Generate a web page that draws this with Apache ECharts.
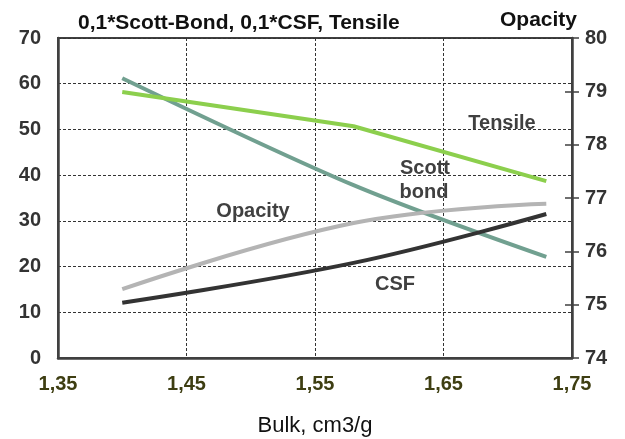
<!DOCTYPE html>
<html>
<head>
<meta charset="utf-8">
<script src="https://cdn.jsdelivr.net/npm/echarts@6/dist/echarts.min.js"></script>
<style>
html,body{margin:0;padding:0;background:#fff;}
#c{width:625px;height:439px;}
</style>
</head>
<body>
<div id="c"></div>
<script>
// Data
var bulk = [1.40, 1.58, 1.73];
var scottBond = [61.2, 37.8, 22.1];   // 0,1*Scott-Bond (left axis)
var tensile = [58.2, 50.7, 38.7];     // Tensile (left axis)
var csf = [12.1, 20.8, 31.5];         // 0,1*CSF (left axis)
var opacity = [75.29, 76.53, 76.89];  // Opacity (right axis)
var xTicks = {min: 1.35, max: 1.75, interval: 0.1};
var leftTicks = {min: 0, max: 70, interval: 10};
var rightTicks = {min: 74, max: 80, interval: 1};
var titleText = '0,1*Scott-Bond, 0,1*CSF, Tensile';
var rightName = 'Opacity';
var xName = 'Bulk, cm3/g';
var labels = [
  {text: 'Tensile', x: 502, y: 123},
  {text: 'Scott', x: 425, y: 168},
  {text: 'bond', x: 424, y: 192},
  {text: 'Opacity', x: 253, y: 211},
  {text: 'CSF', x: 395, y: 284}
];

function pairs(xs, ys){ return xs.map(function(x,i){ return [x, ys[i]]; }); }

var FONT = '"Liberation Sans", Arial, sans-serif';
var chart = echarts.init(document.getElementById('c'), null, {renderer: 'canvas'});
var gridLine = {show: true, lineStyle: {color: '#333', width: 1, type: [3, 2]}};

chart.setOption({
  animation: false,
  backgroundColor: '#fff',
  title: {
    text: titleText, left: 73, top: 8,
    textStyle: {fontFamily: FONT, fontSize: 21, fontWeight: 'bold', color: '#111'}
  },
  grid: {left: 58, right: 53, top: 38, bottom: 81, containLabel: false, outerBoundsMode: 'none',
         show: true, borderColor: '#404040', borderWidth: 2, backgroundColor: 'transparent'},
  xAxis: {
    type: 'value', min: xTicks.min, max: xTicks.max, interval: xTicks.interval,
    name: xName, nameLocation: 'middle', nameGap: 57,
    nameTextStyle: {fontFamily: FONT, fontSize: 22, color: '#111'},
    axisLine: {show: true, lineStyle: {color: '#404040', width: 2.5}},
    axisTick: {show: false},
    splitLine: gridLine,
    axisLabel: {
      margin: 16, fontFamily: FONT, fontSize: 20, fontWeight: 'bold', color: '#3e3e12',
      formatter: function(v){ return v.toFixed(2).replace('.', ','); }
    }
  },
  yAxis: [
    {
      type: 'value', position: 'left', min: leftTicks.min, max: leftTicks.max, interval: leftTicks.interval,
      axisLine: {show: true, lineStyle: {color: '#404040', width: 2.5}},
      axisTick: {show: false},
      splitLine: gridLine,
      axisLabel: {margin: 17, fontFamily: FONT, fontSize: 20, fontWeight: 'bold', color: '#333'}
    },
    {
      type: 'value', position: 'right', min: rightTicks.min, max: rightTicks.max, interval: rightTicks.interval,
      name: rightName, nameLocation: 'end', nameGap: 18,
      nameTextStyle: {fontFamily: FONT, fontSize: 21, fontWeight: 'bold', color: '#111', align: 'right', verticalAlign: 'middle', padding: [0, -5, 0, 0]},
      axisLine: {show: true, lineStyle: {color: '#404040', width: 2.5}},
      axisTick: {show: true, length: 7, lineStyle: {color: '#404040', width: 1.5}},
      splitLine: {show: false},
      axisLabel: {margin: 13, fontFamily: FONT, fontSize: 20, fontWeight: 'bold', color: '#333'}
    },
    {
      type: 'value', position: 'right', min: rightTicks.min, max: rightTicks.max, interval: rightTicks.interval,
      axisLine: {show: false},
      axisTick: {show: true, inside: true, length: 7, lineStyle: {color: '#404040', width: 1.5}},
      splitLine: {show: false},
      axisLabel: {show: false}
    }
  ],
  series: [
    {name: 'Scott bond', type: 'line', yAxisIndex: 0, data: pairs(bulk, scottBond), smooth: 0.3,
     showSymbol: false, lineStyle: {color: '#71A090', width: 4}, itemStyle: {color: '#71A090'}},
    {name: 'Tensile', type: 'line', yAxisIndex: 0, data: pairs(bulk, tensile), smooth: false,
     showSymbol: false, lineStyle: {color: '#8CCF4D', width: 4}, itemStyle: {color: '#8CCF4D'}},
    {name: 'Opacity', type: 'line', yAxisIndex: 1, data: pairs(bulk, opacity), smooth: 0.4,
     showSymbol: false, lineStyle: {color: '#B4B4B4', width: 4}, itemStyle: {color: '#B4B4B4'}},
    {name: 'CSF', type: 'line', yAxisIndex: 0, data: pairs(bulk, csf), smooth: 0.4,
     showSymbol: false, lineStyle: {color: '#333333', width: 4}, itemStyle: {color: '#333333'}}
  ],
  graphic: labels.map(function(l){
    return {type: 'text', x: l.x, y: l.y, z: 100,
      style: {text: l.text, fontFamily: FONT, fontSize: 20, fontWeight: 'bold', fill: '#404040', align: 'center', verticalAlign: 'middle'}};
  })
});
</script>
</body>
</html>
